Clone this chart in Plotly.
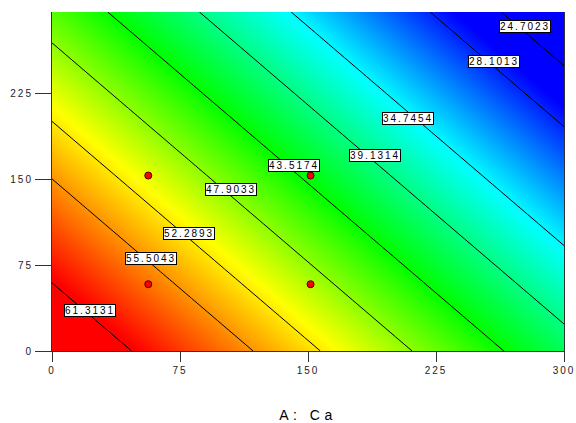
import plotly.graph_objects as go

# ---- data ----
x_grid = [0, 75, 150, 225, 300]
y_grid = [0, 75, 150, 225, 296]
z_grid = [
    [65.12, 59.00, 52.88, 46.76, 40.64],
    [60.32, 54.20, 48.08, 41.96, 35.84],
    [55.52, 49.40, 43.28, 37.16, 31.04],
    [50.72, 44.60, 38.48, 32.36, 26.24],
    [46.18, 40.06, 33.94, 27.82, 21.70],
]
contour_levels = [24.7023, 28.1013, 34.7454, 39.1314, 43.5174,
                  47.9033, 52.2893, 55.5043, 61.3131]
label_x = [277.4, 259.2, 208.8, 189.2, 141.7, 104.6, 80.0, 58.1, 22.3]
label_y = [283.0, 252.8, 202.8, 170.3, 161.6, 140.6, 103.0, 80.7, 35.1]
design_x = [56.4, 151.5, 56.4, 151.5]
design_y = [58.3, 58.3, 153.2, 153.2]
x_ticks = [0, 75, 150, 225, 300]
y_ticks = [0, 75, 150, 225]
x_title = "A: Ca"

FONT = "Liberation Sans, Arial, sans-serif"


def spaced(s, ls):
    return f'<span style="letter-spacing:{ls}px">{s}</span>'


colorscale = [[0.0, "#0000ff"], [0.235, "#00ffff"], [0.485, "#00ff00"],
              [0.72, "#ffff00"], [1.0, "#ff0000"]]

fig = go.Figure()
fig.add_trace(go.Heatmap(x=x_grid, y=y_grid, z=z_grid, zsmooth="best",
                         colorscale=colorscale, zmin=27, zmax=61,
                         showscale=False, hoverinfo="skip"))
for lev in contour_levels:
    fig.add_trace(go.Contour(
        x=x_grid, y=y_grid, z=z_grid, autocontour=False,
        contours=dict(start=lev, end=lev, size=1, coloring="none"),
        line=dict(color="black", width=1), showscale=False,
        hoverinfo="skip", showlegend=False))

fig.add_trace(go.Scatter(x=design_x, y=design_y, mode="markers",
                         marker=dict(color="#ff0000", size=7,
                                     line=dict(color="#400000", width=1)),
                         showlegend=False, hoverinfo="skip"))

for lx, ly, lev in zip(label_x, label_y, contour_levels):
    fig.add_annotation(x=lx, y=ly, text=spaced(f"{lev:.4f}", 2.0),
                       showarrow=False, bgcolor="white",
                       bordercolor="black", borderwidth=1, borderpad=0,
                       font=dict(family=FONT, size=10, color="black"))

fig.update_layout(
    template="none",
    width=576, height=423,
    margin=dict(l=52, r=12, t=12, b=72, autoexpand=False),
    paper_bgcolor="white", plot_bgcolor="white",
    font=dict(family=FONT, size=9, color="black"),
    showlegend=False,
)
fig.update_xaxes(range=[0, 300], tickvals=x_ticks, automargin=False,
                 ticktext=[spaced(str(v), 2) for v in x_ticks],
                 ticks="outside", ticklen=10, tickcolor="#333",
                 showline=True, linecolor="#333", linewidth=1,
                 showgrid=False, zeroline=False,
                 tickfont=dict(family=FONT, size=10, color="#222"),
                 title=dict(text=spaced(x_title, 4.5),
                            font=dict(family=FONT, size=14, color="black"),
                            standoff=37))
fig.update_yaxes(range=[0, 296], tickvals=y_ticks, automargin=False,
                 ticktext=[spaced(str(v), 2) for v in y_ticks],
                 ticks="outside", ticklen=16, tickcolor="#333",
                 showline=True, mirror=True, linecolor="#333", linewidth=1,
                 showgrid=False, zeroline=False,
                 tickfont=dict(family=FONT, size=10, color="#222"))

fig.write_html("out.html", config={"displayModeBar": False},
               post_script="document.body.style.margin='0';")
